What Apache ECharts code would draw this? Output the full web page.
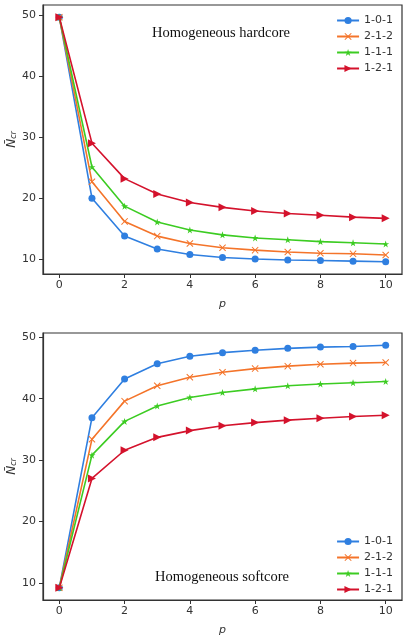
<!DOCTYPE html>
<html>
<head>
<meta charset="utf-8">
<script src="https://cdn.jsdelivr.net/npm/echarts@6/dist/echarts.min.js"></script>
<style>
  html, body { margin: 0; padding: 0; background: #fff; }
  #main { width: 408px; height: 640px; }
</style>
</head>
<body>
<div id="main"></div>
<script>
let p = [0, 1, 2, 3, 4, 5, 6, 7, 8, 9, 10];
let names = ['1-0-1', '2-1-2', '1-1-1', '1-2-1'];
let xTicks = [0, 2, 4, 6, 8, 10];
let yTicks = [10, 20, 30, 40, 50];

// hardcore (top)
let hard101 = [49.6, 20.0, 13.8, 11.7, 10.8, 10.3, 10.05, 9.9, 9.8, 9.7, 9.6];
let hard212 = [49.6, 22.7, 16.2, 13.8, 12.6, 11.9, 11.5, 11.2, 11.0, 10.9, 10.7];
let hard111 = [49.6, 25.1, 18.7, 16.1, 14.8, 14.0, 13.5, 13.2, 12.9, 12.7, 12.5];
let hard121 = [49.6, 29.0, 23.2, 20.7, 19.3, 18.5, 17.9, 17.5, 17.2, 16.9, 16.7];

// softcore (bottom)
let soft101 = [9.2, 36.9, 43.2, 45.7, 46.9, 47.5, 47.9, 48.2, 48.4, 48.5, 48.7];
let soft212 = [9.2, 33.4, 39.6, 42.1, 43.5, 44.3, 44.9, 45.3, 45.6, 45.8, 45.9];
let soft111 = [9.2, 30.8, 36.3, 38.8, 40.2, 41.0, 41.6, 42.1, 42.4, 42.6, 42.8];
let soft121 = [9.2, 27.0, 31.6, 33.7, 34.8, 35.6, 36.1, 36.5, 36.8, 37.1, 37.3];

let colors = ['#2f7fe0', '#f4742a', '#3ccc22', '#d4122c'];
let symbols = [
    'circle',
    'path://M0,1 L1,0 L5,4 L9,0 L10,1 L6,5 L10,9 L9,10 L5,6 L1,10 L0,9 L4,5 Z', // x
    'path://M5,0 L6.2,3.6 L10,3.6 L6.9,5.8 L8.1,9.5 L5,7.2 L1.9,9.5 L3.1,5.8 L0,3.6 L3.8,3.6 Z', // 星形
    'path://M0,0 L10,5 L0,10 Z' // 右三角
];
let symbolSizes = [7, 7, 7, 8];

let chart = echarts.init(document.getElementById('main'));

function makeSeries(list, gridIdx) {
    return list.map((vals, i) => ({
        name: names[i],
        type: 'line',
        xAxisIndex: gridIdx,
        yAxisIndex: gridIdx,
        data: p.map((x, k) => [x, vals[k]]),
        symbol: symbols[i],
        symbolSize: symbolSizes[i],
        showSymbol: true,
        color: colors[i],
        lineStyle: { width: 1.6, color: colors[i] },
        itemStyle: { color: colors[i] },
        z: 2 + i
    }));
}

function xAxisOf(gridIdx) {
    return {
        type: 'value',
        gridIndex: gridIdx,
        min: -0.5,
        max: 10.5,
        name: 'p',
        nameLocation: 'middle',
        nameGap: 25,
        nameTextStyle: { fontFamily: 'DejaVu Sans', fontStyle: 'italic', fontSize: 11, color: '#333' },
        axisLine: { show: true, onZero: false, lineStyle: { color: '#333', width: 1.2 } },
        axisTick: { show: true, length: 4, lineStyle: { color: '#333' }, customValues: xTicks },
        axisLabel: { customValues: xTicks, fontFamily: 'DejaVu Sans', fontSize: 11, color: '#333', margin: 6 },
        splitLine: { show: false }
    };
}

function yAxisOf(gridIdx, min, max) {
    return {
        type: 'value',
        gridIndex: gridIdx,
        min: min,
        max: max,
        name: '{n|N\u0304}{s|cr}',
        nameLocation: 'middle',
        nameGap: 25,
        nameMoveOverlap: false,
        nameTextStyle: {
            rich: {
                n: { fontFamily: 'DejaVu Sans', fontStyle: 'italic', fontSize: 12, color: '#333' },
                s: { fontFamily: 'DejaVu Sans', fontStyle: 'italic', fontSize: 8, color: '#333', verticalAlign: 'bottom', padding: [4, 0, 0, 0] }
            }
        },
        axisLine: { show: true, onZero: false, lineStyle: { color: '#333', width: 1.2 } },
        axisTick: { show: true, length: 4, lineStyle: { color: '#333' }, customValues: yTicks },
        axisLabel: { customValues: yTicks, fontFamily: 'DejaVu Sans', fontSize: 11, color: '#333', margin: 7 },
        splitLine: { show: false }
    };
}

function legendOf(top) {
    return {
        data: names,
        orient: 'vertical',
        right: 10,
        top: top,
        itemWidth: 22,
        itemHeight: 9,
        itemGap: 5,
        textStyle: { fontFamily: 'DejaVu Sans', fontSize: 11, color: '#333' },
        selectedMode: false
    };
}

chart.setOption({
    animation: false,
    grid: [
        { left: 43, right: 6, top: 5, height: 269, show: true, borderColor: '#333', borderWidth: 1.2, outerBoundsMode: 'none' },
        { left: 43, right: 6, top: 333, height: 267, show: true, borderColor: '#333', borderWidth: 1.2, outerBoundsMode: 'none' }
    ],
    xAxis: [xAxisOf(0), xAxisOf(1)],
    yAxis: [yAxisOf(0, 7.6, 51.6), yAxisOf(1, 7.2, 50.7)],
    legend: [legendOf(10), legendOf(531)],
    graphic: [
        {
            type: 'text', x: 221, y: 33,
            style: { text: 'Homogeneous hardcore', fontFamily: 'Liberation Serif', fontSize: 14.5, fill: '#111', textAlign: 'center', textVerticalAlign: 'middle' }
        },
        {
            type: 'text', x: 222, y: 577,
            style: { text: 'Homogeneous softcore', fontFamily: 'Liberation Serif', fontSize: 14.5, fill: '#111', textAlign: 'center', textVerticalAlign: 'middle' }
        }
    ],
    series: makeSeries([hard101, hard212, hard111, hard121], 0)
        .concat(makeSeries([soft101, soft212, soft111, soft121], 1))
});
</script>
</body>
</html>
